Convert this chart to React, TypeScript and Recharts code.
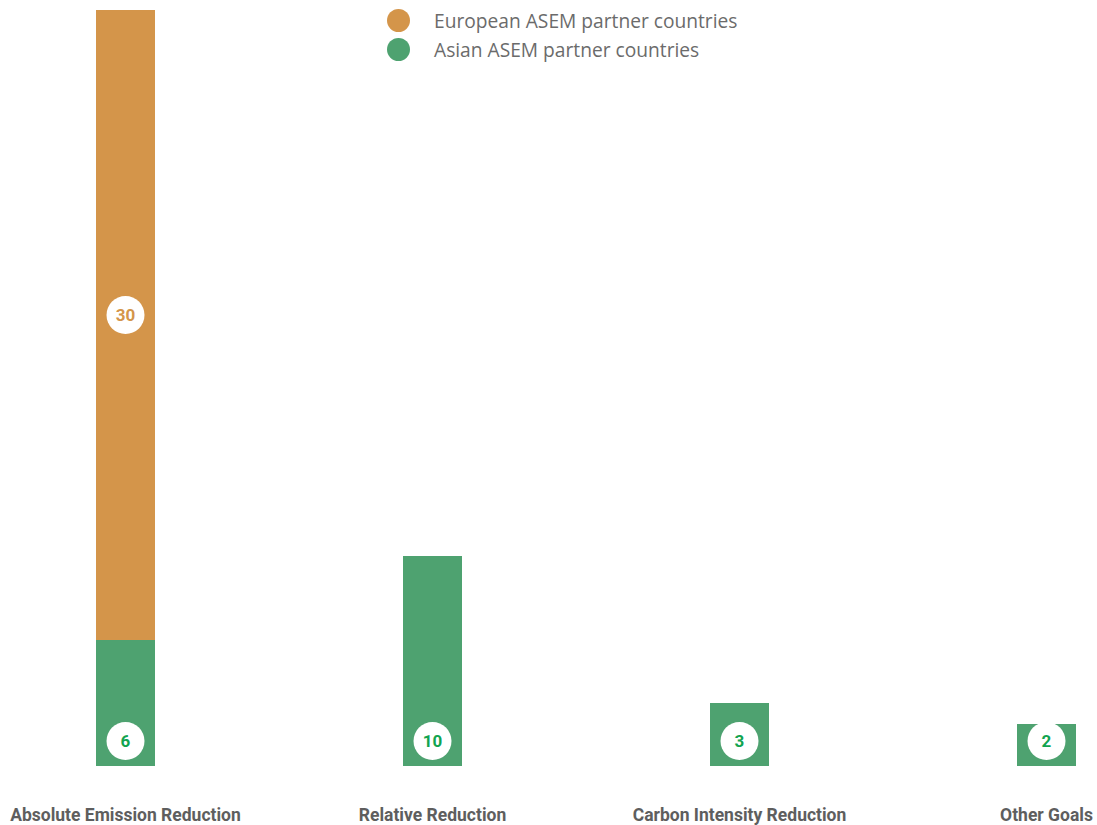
import React from 'react';
import { BarChart, Bar, XAxis, YAxis, LabelList } from 'recharts';

const categories = ['Absolute Emission Reduction', 'Relative Reduction', 'Carbon Intensity Reduction', 'Other Goals'];
const asianValues = [6, 10, 3, 2];
const europeanValues = [30, null, null, null];
const seriesNames = ['European ASEM partner countries', 'Asian ASEM partner countries'];

const ORANGE = '#d4954a';
const GREEN = '#4ea270';
const GREEN_TEXT = '#12a450';

const data = categories.map((c, i) => ({ name: c, asian: asianValues[i], european: europeanValues[i] }));

const BottomCircle = (props: any) => {
  const { x, y, width, height, value } = props;
  if (value == null) return null;
  const cx = x + width / 2;
  const cy = y + height - 25;
  return (
    <g>
      <circle cx={cx} cy={cy} r={19} fill="#fff" />
      <text x={cx} y={cy} textAnchor="middle" dominantBaseline="central" fill={GREEN_TEXT}
        fontFamily="'Roboto', sans-serif" fontWeight={700} fontSize={17}>{value}</text>
    </g>
  );
};

const MidCircle = (props: any) => {
  const { x, y, width, height, value } = props;
  if (value == null) return null;
  const cx = x + width / 2;
  const cy = y + height / 2 - 10;
  return (
    <g>
      <circle cx={cx} cy={cy} r={19} fill="#fff" />
      <text x={cx} y={cy} textAnchor="middle" dominantBaseline="central" fill={ORANGE}
        fontFamily="'Roboto', sans-serif" fontWeight={700} fontSize={17}>{value}</text>
    </g>
  );
};

const Legend = () => (
  <div style={{ position: 'absolute', left: 387, top: 6, fontFamily: "'Open Sans', sans-serif", fontSize: 19.2, color: '#6b6b6b' }}>
    {[ORANGE, GREEN].map((c, i) => (
      <div key={i} style={{ display: 'flex', alignItems: 'center', height: 29 }}>
        <span style={{ display: 'inline-block', width: 23, height: 23, borderRadius: '50%', background: c, marginRight: 24 }} />
        <span>{seriesNames[i]}</span>
      </div>
    ))}
  </div>
);

export default function App() {
  return (
    <div style={{ position: 'absolute', left: 0, top: 0, width: 1097, height: 825, overflow: 'hidden', background: '#fff' }}>
      <div style={{ position: 'absolute', left: -28, top: 0 }}>
        <BarChart width={1228} height={825} data={data} margin={{ top: 10, right: 0, bottom: 29, left: 0 }} barSize={59}>
          <XAxis dataKey="name" axisLine={false} tickLine={false} interval={0} height={30}
            tick={{ fill: '#5e5e5e', fontSize: 17.5, fontWeight: 700, fontFamily: "'Roboto', sans-serif" }}
            tickMargin={37} />
          <YAxis hide domain={[0, 36]} />
          <Bar dataKey="asian" stackId="a" fill={GREEN} isAnimationActive={false}>
            <LabelList dataKey="asian" content={BottomCircle} />
          </Bar>
          <Bar dataKey="european" stackId="a" fill={ORANGE} isAnimationActive={false}>
            <LabelList dataKey="european" content={MidCircle} />
          </Bar>
        </BarChart>
      </div>
      <Legend />
    </div>
  );
}
